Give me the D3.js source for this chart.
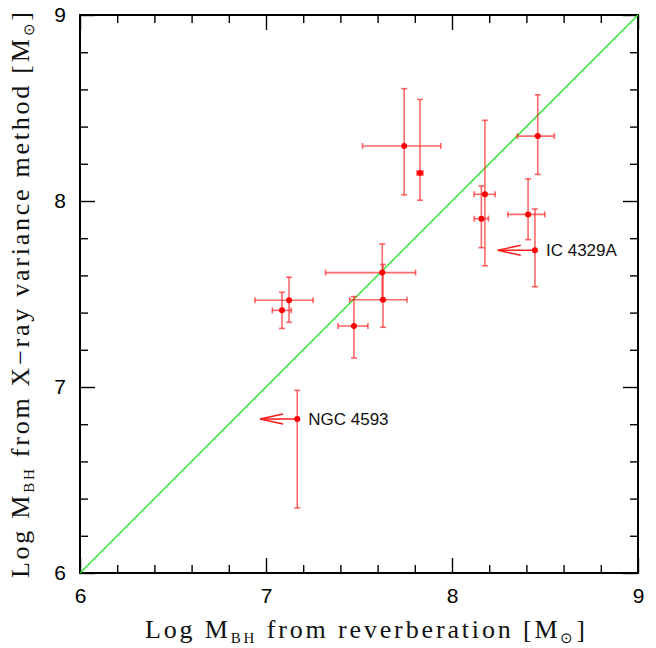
<!DOCTYPE html>
<html>
<head>
<meta charset="utf-8">
<script src="https://cdn.jsdelivr.net/npm/d3@7"></script>
<style>
  body { margin: 0; background: #fff; }
  .tick text { font-family: "Liberation Sans", Arial, sans-serif; font-size: 21px; fill: #000; }
  .title { font-family: "Liberation Serif", "Times New Roman", serif; font-size: 26px; fill: #111; }
</style>
</head>
<body>
<div id="chart"></div>
<script>
// -- data (log masses)
const xRev   = [7.743, 7.828, 8.177, 8.158, 8.461, 8.409, 8.446, 7.625, 7.629, 7.473, 7.124, 7.086, 7.168];
const yXray  = [8.296, 8.151, 8.036, 7.905, 8.349, 7.928, 7.735, 7.615, 7.469, 7.328, 7.466, 7.412, 6.828];
const xErrLo = [0.224, 0.016, 0.058, 0.039, 0.110, 0.109, 0,     0.305, 0.179, 0.086, 0.183, 0.052, 0];
const xErrHi = [0.197, 0.016, 0.055, 0.038, 0.089, 0.090, 0,     0.179, 0.129, 0.075, 0.129, 0.050, 0];
const yErrLo = [0.263, 0.147, 0.384, 0.156, 0.206, 0.136, 0.196, 0.145, 0.148, 0.172, 0.118, 0.097, 0.478];
const yErrHi = [0.308, 0.395, 0.398, 0.176, 0.222, 0.191, 0.222, 0.154, 0.190, 0.158, 0.124, 0.097, 0.154];

// upper limits on reverberation mass (arrows to the left) + names
const limitIdx   = [6, 12];
const limitNames = ["IC 4329A", "NGC 4593"];
const arrowLen = 0.2;

const majorTicks = [6, 7, 8, 9];

const margin = {top: 15, right: 18, bottom: 75, left: 80};
const w = 656 - margin.left - margin.right;
const h = 648 - margin.top - margin.bottom;

let svg = d3.select('#chart')
  .append('svg')
    .attr('width', 656)
    .attr('height', 648);

let g = svg.append('g')
  .attr('transform', `translate(${margin.left}, ${margin.top})`);

let xScale = d3.scaleLinear().domain([6, 9]).range([0, w]);
let yScale = d3.scaleLinear().domain([6, 9]).range([h, 0]);

const minorTicks = d3.range(6, 9.001, 0.2).filter(t => Math.abs(t - Math.round(t)) > 0.01);

// inward ticks on all four sides
let tickAxis = (axisFn, scale, vals, size, tr) => {
  let a = g.append('g')
    .attr('transform', tr)
    .call(axisFn(scale).tickValues(vals).tickSize(-size).tickSizeOuter(0).tickFormat(''));
  a.select('.domain').remove();
  a.selectAll('line').attr('stroke', '#000').attr('stroke-width', 1.4);
};
[[majorTicks, 15], [minorTicks, 8]].forEach(([vals, size]) => {
  tickAxis(d3.axisBottom, xScale, vals, size, `translate(0,${h})`);
  tickAxis(d3.axisTop, xScale, vals, size, 'translate(0,0)');
  tickAxis(d3.axisLeft, yScale, vals, size, 'translate(0,0)');
  tickAxis(d3.axisRight, yScale, vals, size, `translate(${w},0)`);
});

// tick labels
let xLab = g.append('g')
  .attr('transform', `translate(0,${h})`)
  .call(d3.axisBottom(xScale).tickValues(majorTicks).tickSize(0).tickPadding(15).tickFormat(d3.format('d')));
xLab.select('.domain').remove();
let yLab = g.append('g')
  .call(d3.axisLeft(yScale).tickValues(majorTicks).tickSize(0).tickPadding(14).tickFormat(d3.format('d')));
yLab.select('.domain').remove();

// frame
g.append('rect')
  .attr('width', w).attr('height', h)
  .attr('fill', 'none').attr('stroke', '#000').attr('stroke-width', 2);

// one-to-one line
g.append('line')
  .attr('x1', xScale(6)).attr('y1', yScale(6))
  .attr('x2', xScale(9)).attr('y2', yScale(9))
  .attr('stroke', '#22e622').attr('stroke-width', 1.3);

// error bars
let dataCont = g.append('g').attr('id', 'dataCont');
const cap = 3;
const barColor = '#ff1a1a';
xRev.forEach((xv, i) => {
  let cx = xScale(xv), cy = yScale(yXray[i]);
  let bar = dataCont.append('g')
    .attr('stroke', barColor).attr('stroke-width', 1.6).attr('stroke-opacity', 0.65);
  let y1 = yScale(yXray[i] + yErrHi[i]), y2 = yScale(yXray[i] - yErrLo[i]);
  bar.append('line').attr('x1', cx).attr('x2', cx).attr('y1', y1).attr('y2', y2);
  bar.append('line').attr('x1', cx - cap).attr('x2', cx + cap).attr('y1', y1).attr('y2', y1);
  bar.append('line').attr('x1', cx - cap).attr('x2', cx + cap).attr('y1', y2).attr('y2', y2);
  if (xErrLo[i] > 0 || xErrHi[i] > 0) {
    let x1 = xScale(xv - xErrLo[i]), x2 = xScale(xv + xErrHi[i]);
    bar.append('line').attr('x1', x1).attr('x2', x2).attr('y1', cy).attr('y2', cy);
    bar.append('line').attr('x1', x1).attr('x2', x1).attr('y1', cy - cap).attr('y2', cy + cap);
    bar.append('line').attr('x1', x2).attr('x2', x2).attr('y1', cy - cap).attr('y2', cy + cap);
  }
});

// upper-limit arrows + labels
limitIdx.forEach((i, k) => {
  let cx = xScale(xRev[i]), cy = yScale(yXray[i]);
  let tip = xScale(xRev[i] - arrowLen);
  let arr = dataCont.append('g').attr('stroke', barColor).attr('stroke-width', 1.4).attr('fill', 'none');
  arr.append('line').attr('x1', cx).attr('x2', tip).attr('y1', cy).attr('y2', cy);
  arr.append('path').attr('d', `M${tip + 23},${cy - 5}L${tip},${cy}L${tip + 23},${cy + 5}`);
  dataCont.append('text')
    .attr('x', cx + 11).attr('y', cy + 6)
    .style('font-family', '"Liberation Sans", Arial, sans-serif')
    .style('font-size', '17px')
    .attr('fill', '#111')
    .text(limitNames[k]);
});

// points
dataCont.selectAll('circle')
  .data(xRev)
  .enter()
  .append('circle')
    .attr('r', 3)
    .attr('cx', d => xScale(d))
    .attr('cy', (d, i) => yScale(yXray[i]))
    .attr('fill', '#ff0000');

// axis titles
let addTitle = (sel, pre, post) => {
  sel.append('tspan').text(pre);
  sel.append('tspan').attr('dy', 5).style('font-size', '15px').text('BH');
  sel.append('tspan').attr('dy', -5).text(post);
  sel.append('tspan').attr('dy', 5).style('font-size', '15px').text('\u2299');
  sel.append('tspan').attr('dy', -5).text(']');
};
let xt = svg.append('text').attr('class', 'title')
  .attr('x', 145).attr('y', 638)
  .attr('textLength', 440).attr('lengthAdjust', 'spacing');
addTitle(xt, 'Log  M', ' from reverberation [M');

let yt = svg.append('text').attr('class', 'title')
  .attr('transform', 'translate(29,578) rotate(-90)')
  .attr('textLength', 566).attr('lengthAdjust', 'spacing');
addTitle(yt, 'Log  M', ' from X\u2212ray variance method [M');
</script>
</body>
</html>
